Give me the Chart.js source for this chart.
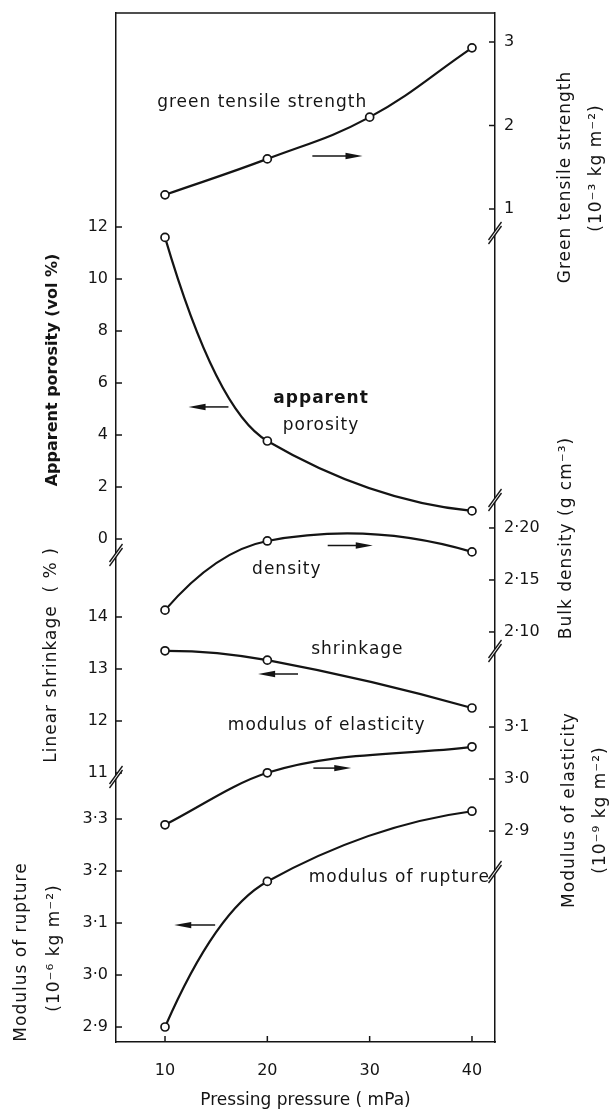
<!DOCTYPE html>
<html><head><meta charset="utf-8">
<script src="https://cdn.jsdelivr.net/npm/chart.js@4.4.1/dist/chart.umd.min.js"></script>
<style>html,body{margin:0;padding:0;background:#fff;}#wrap{width:613px;height:1113px;}</style>
</head><body><div id="wrap"><canvas id="c" width="613" height="1113"></canvas></div>
<script>
// ---- data ----
const pressure = [10, 20, 40];
const pressureTensile = [10, 20, 30, 40];
const tensileStrength = [1.17, 1.60, 2.10, 2.93];
const porosity = [11.6, 3.77, 1.08];
const bulkDensity = [2.121, 2.1875, 2.177];
const shrinkage = [13.35, 13.17, 12.25];
const elasticity = [2.912, 3.012, 3.062];
const rupture = [2.90, 3.18, 3.315];

const xTicks = [10, 20, 30, 40];
const porosityTicks = [0, 2, 4, 6, 8, 10, 12];
const shrinkageTicks = [11, 12, 13, 14];
const ruptureTicks = [2.9, 3.0, 3.1, 3.2, 3.3];
const tensileTicks = [1, 2, 3];
const densityTicks = [2.10, 2.15, 2.20];
const elasticityTicks = [2.9, 3.0, 3.1];

const INK = '#141414';
const FONT = "'DejaVu Sans', sans-serif";

function fmt(v, dec) { return dec ? Number(v).toFixed(dec).replace('.', '\u00B7') : String(Math.round(v)); }

function yAxis(pos, stack, weight, stackWeight, min, max, ticks, dec) {
  const ax = {
    type: 'linear', position: pos, stack: stack, stackWeight: stackWeight, weight: weight,
    min: min, max: max,
    grid: { display: false, drawTicks: false },
    border: { display: true, color: INK, width: 1.5 },
    ticks: ticks ? { display: true, padding: pos === 'left' ? 8 : 9, color: INK,
      font: { family: FONT, size: 16 }, callback: (v) => fmt(v, dec) } : { display: false },
    title: { display: false },
    afterFit: (s) => { s.width = pos === 'left' ? 116 : 118; s.paddingTop = 0; s.paddingBottom = 0; }
  };
  if (ticks) ax.afterBuildTicks = (s) => { s.ticks = ticks.map(v => ({ value: v })); };
  return ax;
}

function series(xs, ys, axis, mode) {
  return {
    data: xs.map((x, i) => ({ x: x, y: ys[i] })), yAxisID: axis,
    borderColor: INK, borderWidth: 2.2, tension: 0.4, fill: false,
    cubicInterpolationMode: mode || 'default',
    pointRadius: 4, pointBorderWidth: 1.7, pointBackgroundColor: '#fff', pointBorderColor: INK
  };
}

// annotations in data units of the relevant axes
const arrows = [
  { axis: 'yTen', x1: 24.4, x2: 29.3, y: 1.635 },
  { axis: 'yPor', x1: 16.2, x2: 12.3, y: 5.08 },
  { axis: 'yDen', x1: 25.9, x2: 30.3, y: 2.1832 },
  { axis: 'yShr', x1: 23.0, x2: 19.1, y: 12.904 },
  { axis: 'yEla', x1: 24.5, x2: 28.2, y: 3.021 },
  { axis: 'yRup', x1: 14.9, x2: 10.9, y: 3.096 }
];
const labels = [
  { axis: 'yTen', x: 19.5, y: 2.28, text: 'green tensile strength' },
  { axis: 'yPor', x: 25.25, y: 5.42, text: 'apparent', bold: true },
  { axis: 'yPor', x: 25.25, y: 4.38, text: 'porosity' },
  { axis: 'yDen', x: 21.9, y: 2.1596, text: 'density' },
  { axis: 'yShr', x: 28.8, y: 13.365, text: 'shrinkage' },
  { axis: 'yEla', x: 25.8, y: 3.102, text: 'modulus of elasticity' },
  { axis: 'yRup', x: 32.9, y: 3.188, text: 'modulus of rupture' }
];
const titles = [
  { x: 53, y: 370, text: 'Apparent porosity (vol %)', bold: true },
  { x: 52, y: 655, text: 'Linear shrinkage  ( % )' },
  { x: 22, y: 952, text: 'Modulus of rupture' },
  { x: 55, y: 948, text: '(10\u207B\u2076 kg m\u207B\u00B2)' },
  { x: 566, y: 177, text: 'Green tensile strength' },
  { x: 597, y: 168, text: '(10\u207B\u00B3 kg m\u207B\u00B2)' },
  { x: 567, y: 538, text: 'Bulk density (g cm\u207B\u00B3)' },
  { x: 570, y: 810, text: 'Modulus of elasticity' },
  { x: 601, y: 810, text: '(10\u207B\u2079 kg m\u207B\u00B2)' }
];

// curve shaping: dataset index -> interior tangent rule ('harm' or 'chord'), parabolic end conditions
const curveRules = { 1: 'harm', 2: 'chord', 3: 'chord', 5: 'harm' };

function seg(ctx, x1, y1, x2, y2) { ctx.beginPath(); ctx.moveTo(x1, y1); ctx.lineTo(x2, y2); ctx.stroke(); }

const curveShape = {
  id: 'curveShape',
  beforeDatasetDraw(chart, args) {
    const rule = curveRules[args.index]; if (!rule) return;
    const meta = args.meta, line = meta.dataset, pts = meta.data;
    line.updateControlPoints(chart.chartArea, 'x');
    const n = pts.length; if (n < 3) return;
    const X = pts.map(p => p.x), Y = pts.map(p => p.y);
    const s = [], m = new Array(n);
    for (let i = 0; i < n - 1; i++) s.push((Y[i + 1] - Y[i]) / (X[i + 1] - X[i]));
    for (let i = 1; i < n - 1; i++) {
      if (rule === 'harm') m[i] = (s[i - 1] * s[i] > 0) ? 2 * s[i - 1] * s[i] / (s[i - 1] + s[i]) : 0;
      else m[i] = (Y[i + 1] - Y[i - 1]) / (X[i + 1] - X[i - 1]);
    }
    m[0] = 2 * s[0] - m[1];
    m[n - 1] = 2 * s[n - 2] - m[n - 2];
    for (let i = 0; i < n - 1; i++) {
      const d = (X[i + 1] - X[i]) / 3;
      pts[i].cp2x = X[i] + d; pts[i].cp2y = Y[i] + m[i] * d;
      pts[i + 1].cp1x = X[i + 1] - d; pts[i + 1].cp1y = Y[i + 1] - m[i + 1] * d;
    }
  }
};

const decor = {
  id: 'decor',
  beforeDraw(chart) {
    const c = chart.ctx; c.save(); c.fillStyle = '#fff'; c.fillRect(0, 0, chart.width, chart.height); c.restore();
  },
  afterDraw(chart) {
    const ctx = chart.ctx, a = chart.chartArea, s = chart.scales;
    ctx.save();
    ctx.strokeStyle = INK; ctx.fillStyle = INK; ctx.lineWidth = 1.5; ctx.lineCap = 'butt';
    seg(ctx, a.left, a.top, a.right, a.top);
    ['yPor', 'yShr', 'yRup'].forEach(id => s[id].ticks.forEach(t => {
      const y = s[id].getPixelForValue(t.value); seg(ctx, a.left, y, a.left + 6, y);
    }));
    ['yTen', 'yDen', 'yEla'].forEach(id => s[id].ticks.forEach(t => {
      const y = s[id].getPixelForValue(t.value); seg(ctx, a.right - 6, y, a.right, y);
    }));
    s.x.ticks.forEach(t => { const x = s.x.getPixelForValue(t.value); seg(ctx, x, a.bottom, x, a.bottom - 6); });
    // axis breaks
    ctx.lineWidth = 1.3;
    const brk = (x, y) => {
      ctx.save(); ctx.fillStyle = '#fff'; ctx.beginPath();
      ctx.moveTo(x - 6.5, y + 7); ctx.lineTo(x + 6.5, y - 11); ctx.lineTo(x + 6.5, y - 7); ctx.lineTo(x - 6.5, y + 11);
      ctx.closePath(); ctx.fill(); ctx.restore();
      seg(ctx, x - 6.5, y + 7, x + 6.5, y - 11);
      seg(ctx, x - 6.5, y + 11, x + 6.5, y - 7);
    };
    [s.yPor.bottom, s.yShr.bottom].forEach(y => brk(a.left, y));
    [s.yTen.bottom, s.yDen.top, s.yDen.bottom, s.yEla.bottom].forEach(y => brk(a.right, y));
    // arrows
    arrows.forEach(ar => {
      const x1 = s.x.getPixelForValue(ar.x1), x2 = s.x.getPixelForValue(ar.x2), y = s[ar.axis].getPixelForValue(ar.y);
      const dir = Math.sign(x2 - x1), hl = 17;
      ctx.lineWidth = 1.5; seg(ctx, x1, y, x2 - dir * hl * 0.5, y);
      ctx.beginPath(); ctx.moveTo(x2, y); ctx.lineTo(x2 - dir * hl, y - 3.2); ctx.lineTo(x2 - dir * hl, y + 3.2);
      ctx.closePath(); ctx.fill();
    });
    // curve labels
    ctx.textAlign = 'center'; ctx.textBaseline = 'middle';
    try { ctx.letterSpacing = '1px'; } catch (e) {}
    labels.forEach(l => {
      ctx.font = (l.bold ? 'bold ' : '') + '17px ' + FONT;
      ctx.fillText(l.text, s.x.getPixelForValue(l.x), s[l.axis].getPixelForValue(l.y));
    });
    // axis titles (read bottom to top)
    titles.forEach(t => {
      ctx.save(); ctx.translate(t.x, t.y); ctx.rotate(-Math.PI / 2);
      if (t.bold) { try { ctx.letterSpacing = '0px'; } catch (e) {} ctx.font = 'bold 16px ' + FONT; }
      else { try { ctx.letterSpacing = '1px'; } catch (e) {} ctx.font = '17px ' + FONT; }
      ctx.fillText(t.text, 0, 0); ctx.restore();
    });
    ctx.restore();
  }
};

new Chart(document.getElementById('c'), {
  type: 'line',
  data: {
    datasets: [
      series(pressureTensile, tensileStrength, 'yTen'),
      series(pressure, porosity, 'yPor'),
      series(pressure, bulkDensity, 'yDen'),
      series(pressure, shrinkage, 'yShr'),
      series(pressure, elasticity, 'yEla', 'monotone'),
      series(pressure, rupture, 'yRup')
    ]
  },
  options: {
    responsive: false, animation: false, devicePixelRatio: 1,
    layout: { padding: { top: 13, left: 0, right: 0, bottom: 0 } },
    plugins: { legend: { display: false }, tooltip: { enabled: false } },
    scales: {
      x: {
        type: 'linear', position: 'bottom', min: 5.21, max: 42.25,
        grid: { display: false, drawTicks: false },
        border: { display: true, color: INK, width: 1.5 },
        ticks: { padding: 19, color: INK, font: { family: FONT, size: 16 }, callback: (v) => String(v) },
        afterBuildTicks: (s) => { s.ticks = xTicks.map(v => ({ value: v })); },
        afterFit: (s) => { s.height = 71; s.paddingLeft = 0; s.paddingRight = 0; },
        title: { display: true, text: 'Pressing pressure ( mPa)', color: INK, font: { family: FONT, size: 17 }, padding: { top: 0, bottom: 2 } }
      },
      yPor: yAxis('left', 'L', 3, 542, -0.615, 20.231, porosityTicks, 0),
      yShr: yAxis('left', 'L', 2, 222, 10.923, 15.192, shrinkageTicks, 0),
      yRup: yAxis('left', 'L', 1, 265, 2.8712, 3.3808, ruptureTicks, 1),
      yTen: yAxis('right', 'R', 1, 220, 0.7126, 3.3473, tensileTicks, 0),
      yGap1: yAxis('right', 'R', 2, 267, 0, 1, null, 0),
      yDen: yAxis('right', 'R', 3, 151, 2.0817, 2.2269, densityTicks, 2),
      yEla: yAxis('right', 'R', 4, 221, 2.8212, 3.2462, elasticityTicks, 1),
      yGap2: yAxis('right', 'R', 5, 170, 0, 1, null, 0)
    }
  },
  plugins: [curveShape, decor]
});
</script></body></html>
